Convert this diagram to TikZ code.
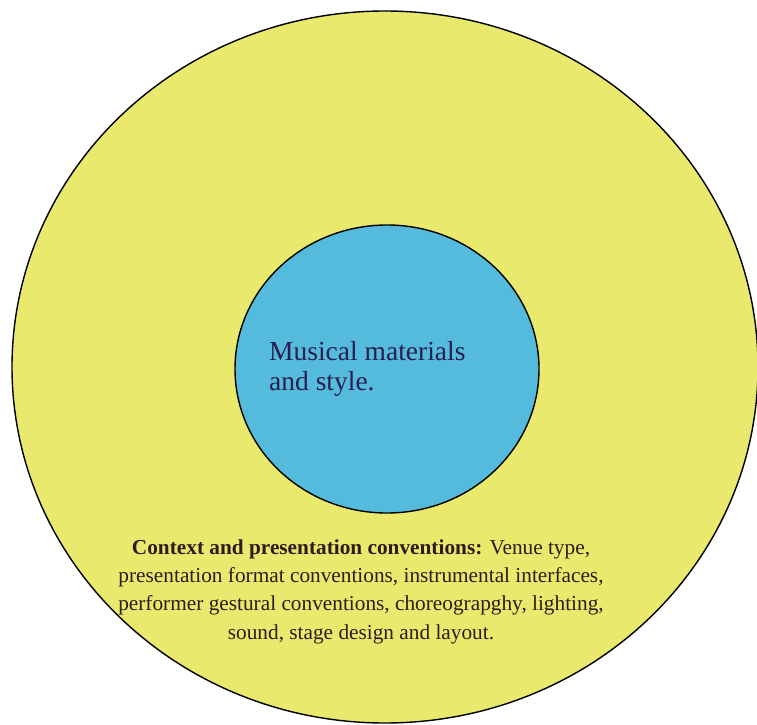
\documentclass[tikz,border=0pt]{standalone}
\usepackage{fontspec}
\setmainfont{Liberation Serif}
\definecolor{outerfill}{RGB}{233,233,110}
\definecolor{innerfill}{RGB}{84,187,221}
\definecolor{innertext}{RGB}{40,30,80}
\definecolor{outertext}{RGB}{45,28,28}
\begin{document}
\begin{tikzpicture}[x=1pt,y=1pt,
  ring/.style={draw=black,line width=1.4pt},
  innerlabel/.style={inner sep=0pt,align=left,text=innertext,font=\fontsize{27.5}{30}\selectfont},
  outerlabel/.style={inner sep=0pt,align=center,text=outertext,font=\fontsize{21.3}{28.3}\selectfont}]
\useasboundingbox (0,0) rectangle (757,724);
\clip (0,0) rectangle (757,724);
\fill[white] (0,0) rectangle (757,724);
\draw[ring,fill=outerfill] (385,357) ellipse [x radius=373, y radius=356];
\draw[ring,fill=innerfill] (387,355) ellipse [x radius=152, y radius=144];
\node[innerlabel,anchor=base west] (inner) at (269,334) {Musical materials\\and style.};
\node[outerlabel,anchor=base] (outer) at (361,85) {\textbf{Context and presentation conventions:} Venue type,\\presentation format conventions, instrumental interfaces,\\performer gestural conventions, choreograpghy, lighting,\\sound, stage design and layout.};
\end{tikzpicture}
\end{document}
